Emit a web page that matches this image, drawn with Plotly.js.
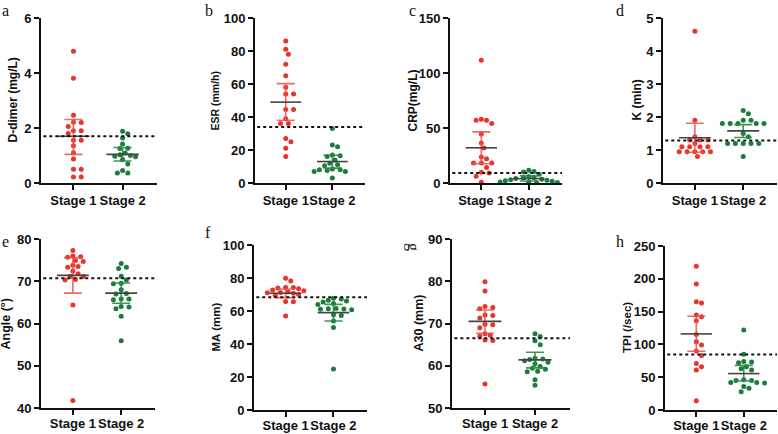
<!DOCTYPE html>
<html><head><meta charset="utf-8">
<script src="https://cdn.plot.ly/plotly-3.0.1.min.js"></script>
<style>html,body{margin:0;padding:0;background:#fff}#chart{width:778px;height:434px}</style>
</head><body><div id="chart"></div>
<script>
// ---------- data ----------
const groups = ['Stage 1', 'Stage 2'];
const panelLetters = ['a','b','c','d','e','f','g','h'];
const yTitles = ['D-dimer (mg/L)','ESR (mm/h)','CRP(mg/L)','K (min)','Angle (°)','MA (mm)','A30 (mm)','TPI (/sec)'];

const dDimerS1 = [4.79, 3.81, 2.46, 2.21, 2.2, 2.05, 1.9, 1.9, 1.8, 1.55, 1.55, 1.35, 1.1, 0.87, 0.5, 0.5, 0.22, 0.22];
const dDimerS2 = [1.88, 1.79, 1.64, 1.42, 1.26, 1.25, 1.09, 1.03, 1.0, 0.97, 0.95, 0.85, 0.69, 0.45, 0.36, 0.36];
const dDimerMean = [1.70, 1.04], dDimerLow = [1.04, 0.80], dDimerHigh = [2.31, 1.29], dDimerRef = 1.70;

const esrS1 = [86, 81, 78, 72, 65, 58, 54, 54, 44.5, 44.5, 39, 36, 36, 27, 25, 21, 16];
const esrS2 = [33, 23, 22, 17, 16.5, 16, 14, 12, 11, 10.5, 8.5, 8, 8, 7.5, 7, 7, 3];
const esrMean = [49, 13], esrLow = [38, 9], esrHigh = [60.2, 16.8], esrRef = 34;

const crpS1 = [111.5, 58, 57, 57, 54, 44.5, 36.4, 31.8, 23.6, 22.1, 18.2, 18.2, 18.2, 14.2, 9.7, 9.1, 6.1, 0.6];
const crpS2 = [11.5, 10.5, 10, 8, 6, 5, 4.5, 4, 3.5, 3, 2.5, 2, 1.5, 1, 1, 0.5, 0.5];
const crpMean = [32, 4], crpLow = [17.5, 1.8], crpHigh = [46.5, 6.5], crpRef = 9;

const kS1 = [4.6, 1.9, 1.4, 1.3, 1.3, 1.3, 1.2, 1.1, 1.1, 1.1, 1.1, 0.95, 0.95, 0.95, 0.95, 0.95, 0.8];
const kS2 = [2.2, 2.1, 1.9, 1.9, 1.8, 1.8, 1.8, 1.8, 1.8, 1.5, 1.4, 1.2, 1.2, 1.2, 1.2, 1.2, 0.8];
const kMean = [1.37, 1.58], kLow = [0.93, 1.38], kHigh = [1.81, 1.77], kRef = 1.29;

const angleS1 = [77.3, 76, 75.7, 75.8, 74.7, 74.9, 73.8, 73.3, 73.5, 72.4, 71.8, 71.2, 71.1, 70.4, 70.3, 64.4, 41.8];
const angleS2 = [74.2, 73.3, 73.0, 71.2, 70.3, 69.5, 69.4, 68.0, 67.1, 67.0, 65.8, 65.8, 65.6, 64.0, 63.9, 63.5, 61.7, 55.9];
const angleMean = [71.4, 67.2], angleLow = [67.2, 64.8], angleHigh = [75.6, 69.6], angleRef = 70.7;

const maS1 = [79.8, 78.2, 74.3, 74.3, 74, 73.5, 72.7, 72.3, 71.5, 71.2, 71, 70.8, 70, 69.6, 65.8, 65.6, 57];
const maS2 = [67.8, 67.2, 66.5, 66, 65.5, 64.5, 64, 61.5, 61.3, 61.2, 61, 60.8, 57.8, 57.2, 54, 50, 24.8];
const maMean = [70.8, 59.0], maLow = [68.1, 53.9], maHigh = [73.3, 64.0], maRef = 68.3;

const a30S1 = [79.9, 77.7, 74.0, 73.8, 73.5, 72.0, 71.9, 71.3, 69.8, 69.7, 69.0, 67.6, 67.2, 67.0, 66.0, 66.1, 55.7];
const a30S2 = [67.6, 66.9, 65.9, 65.0, 61.8, 61.6, 61.5, 61.2, 60.8, 60.5, 59.8, 59.4, 59.2, 58.7, 58.6, 56.7, 55.4];
const a30Mean = [70.5, 61.4], a30Low = [67.7, 59.5], a30High = [73.2, 63.2], a30Ref = 66.5;

const tpiS1 = [219, 192, 165, 163, 145, 142, 136, 115, 104, 99, 90, 83, 71, 66, 61, 14];
const tpiS2 = [122, 85, 74, 73, 72, 66, 63, 61, 46, 45, 45, 42, 42, 41, 36, 33, 28];
const tpiMean = [116, 55.5], tpiLow = [89.5, 44.5], tpiHigh = [143, 68], tpiRef = 84.5;

const yRanges = [[0,6],[0,100],[0,150],[0,5],[40,80],[0,100],[50,90],[0,250]];
const yDticks = [2, 20, 50, 1, 10, 20, 10, 50];

// ---------- layout geometry (pixels) ----------
const W = 778, H = 434;
const boxes = [[41,157,18,183],[255,365,18,183],[450,562,18,183],[663,777,18,183],
               [41,155,239,408],[254,367,245,410],[452,570,239,408],[665,777,246,410]];
// letter anchor: top row anchored at top edge, bottom row by middle
const letterPos = [[0,0],[209,0],[412,0],[620,0],[0,241],[208,232],[413,247],[620,241]];
const titleX = [13, 215, 413, 637, 5, 215, 418, 627];
const titleSize = [12, 10.5, 12, 12, 12.5, 11.5, 12.5, 11.5];
const xRange = [-0.66, 1.70];

const panels = [
  [dDimerS1, dDimerS2, dDimerMean, dDimerLow, dDimerHigh, dDimerRef],
  [esrS1, esrS2, esrMean, esrLow, esrHigh, esrRef],
  [crpS1, crpS2, crpMean, crpLow, crpHigh, crpRef],
  [kS1, kS2, kMean, kLow, kHigh, kRef],
  [angleS1, angleS2, angleMean, angleLow, angleHigh, angleRef],
  [maS1, maS2, maMean, maLow, maHigh, maRef],
  [a30S1, a30S2, a30Mean, a30Low, a30High, a30Ref],
  [tpiS1, tpiS2, tpiMean, tpiLow, tpiHigh, tpiRef]
];

const RED = '#e8342b', GREEN = '#1c7c3c';
const RED_EB = 'rgba(236,80,70,0.85)', GREEN_EB = 'rgba(40,140,70,0.9)';

// beeswarm horizontal offsets (pixel-space collision avoidance)
function swarm(vals, center, pxPerY, pxPerX) {
  const d = 5.3, step = 2.6;
  const placed = [];
  const xs = new Array(vals.length);
  const order = vals.map((v, i) => i).sort((a, b) => vals[b] - vals[a]);
  for (const i of order) {
    const yp = vals[i] * pxPerY;
    for (let k = 0; k < 80; k++) {
      const off = (k % 2 ? 1 : -1) * Math.ceil(k / 2) * step;
      if (placed.every(p => Math.hypot(p.x - off, p.y - yp) >= d)) {
        xs[i] = center + off / pxPerX;
        placed.push({x: off, y: yp});
        break;
      }
    }
  }
  return xs;
}

const traces = [];
const layout = {
  width: W, height: H, margin: {l:0, r:0, t:0, b:0},
  paper_bgcolor: '#fff', plot_bgcolor: '#fff', showlegend: false,
  shapes: [], annotations: []
};
const tickFont = {family: 'Liberation Sans, Arial, sans-serif', size: 13, color: '#111', weight: 700};

panels.forEach((p, i) => {
  const n = i + 1, sfx = n === 1 ? '' : String(n);
  const xa = 'x' + sfx, ya = 'y' + sfx;
  const [L, R, T, B] = boxes[i];
  const yr = yRanges[i];
  const pxPerY = (B - T) / (yr[1] - yr[0]);
  const pxPerX = (R - L) / (xRange[1] - xRange[0]);
  const [s1, s2, mean, low, high, ref] = p;

  layout['xaxis' + sfx] = {
    domain: [L / W, R / W], range: xRange, anchor: ya,
    tickvals: [0, 1], ticktext: groups, tickfont: tickFont, tickangle: 0,
    ticklabelstandoff: i >= 4 ? -3 : -1,
    showline: true, linecolor: '#111', linewidth: 2,
    ticks: 'outside', ticklen: 5, tickwidth: 2, tickcolor: '#111',
    showgrid: false, zeroline: false, fixedrange: true
  };
  layout['yaxis' + sfx] = {
    domain: [1 - B / H, 1 - T / H], range: yr, anchor: xa,
    tick0: yr[0], dtick: yDticks[i], tickfont: tickFont, tickangle: 0,
    showline: true, linecolor: '#111', linewidth: 2,
    ticks: 'outside', ticklen: 5, tickwidth: 2, tickcolor: '#111',
    showgrid: false, zeroline: false, fixedrange: true
  };

  [s1, s2].forEach((vals, g) => {
    traces.push({
      type: 'scatter', mode: 'markers', xaxis: xa, yaxis: ya,
      x: swarm(vals, g, pxPerY, pxPerX), y: vals, cliponaxis: false,
      marker: {color: g === 0 ? RED : GREEN, size: 5, line: {width: 0}},
      hoverinfo: 'y'
    });
  });
  [0, 1].forEach(g => {
    traces.push({
      type: 'scatter', mode: 'markers', xaxis: xa, yaxis: ya,
      x: [g], y: [mean[g]], marker: {size: 1, opacity: 0},
      error_y: {type: 'data', symmetric: false,
        array: [high[g] - mean[g]], arrayminus: [mean[g] - low[g]],
        color: g === 0 ? RED_EB : GREEN_EB, thickness: 1.6, width: 9},
      hoverinfo: 'skip'
    });
    traces.push({
      type: 'scatter', mode: 'lines', xaxis: xa, yaxis: ya,
      x: [g - 0.33, g + 0.33], y: [mean[g], mean[g]],
      line: {color: '#444', width: 1.6}, hoverinfo: 'skip'
    });
  });

  layout.shapes.push({
    type: 'line', xref: xa + ' domain', yref: ya, x0: 0.02, x1: 1, y0: ref, y1: ref,
    line: {color: '#111', width: 2, dash: 'dot'}
  });

  layout.annotations.push({
    text: yTitles[i], textangle: -90, showarrow: false,
    xref: 'paper', yref: 'paper', x: titleX[i] / W, y: 1 - (T + B) / 2 / H,
    xanchor: 'center', yanchor: 'middle',
    font: {family: 'Liberation Sans, Arial, sans-serif', size: titleSize[i], color: '#111', weight: 700}
  });
  const leftEdge = (i === 0 || i === 4);
  const topRow = i < 4;
  layout.annotations.push({
    text: panelLetters[i], textangle: i === 6 ? 90 : 0, showarrow: false,
    xref: 'paper', yref: 'paper', x: letterPos[i][0] / W, y: 1 - letterPos[i][1] / H,
    xanchor: leftEdge ? 'left' : 'center', yanchor: topRow ? 'top' : 'middle',
    font: {family: 'Liberation Serif, Times New Roman, serif', size: 16, color: '#111'}
  });
});

Plotly.newPlot('chart', traces, layout, {displayModeBar: false, staticPlot: true});
</script>
</body></html>
